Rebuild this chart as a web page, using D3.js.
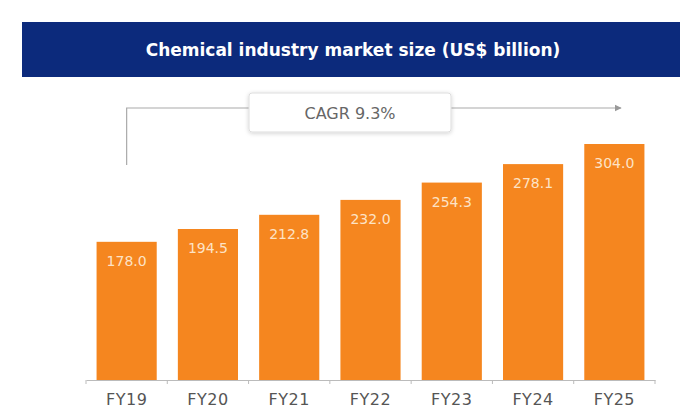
<!DOCTYPE html>
<html><head><meta charset="utf-8">
<script src="https://cdn.jsdelivr.net/npm/d3@7"></script>
<style>body{margin:0;background:#fff}svg{display:block}</style>
</head><body>
<svg id="c" width="680" height="418"></svg>
<script>
const categories = ["FY19","FY20","FY21","FY22","FY23","FY24","FY25"];
const values = [178.0, 194.5, 212.8, 232.0, 254.3, 278.1, 304.0];
const valueLabels = ["178.0","194.5","212.8","232.0","254.3","278.1","304.0"];
const title = "Chemical industry market size (US$ billion)";
const cagrText = "CAGR 9.3%";

const FONT = "DejaVu Sans, Verdana, sans-serif";
const svg = d3.select("#c");
const baseY = 380;
const x = d3.scaleBand().domain(categories).range([86, 655]).paddingInner(0.26).paddingOuter(0.13);
const y = d3.scaleLinear().domain([0, 304]).range([baseY, 144]);

// title band
svg.append("rect").attr("x",22).attr("y",22).attr("width",658).attr("height",55).attr("fill","#0c2a7c");
svg.append("text").attr("x",353).attr("y",56).attr("text-anchor","middle")
  .attr("fill","#fff").attr("font-family",FONT)
  .attr("font-weight","bold").attr("font-size",17).text(title);

// CAGR line + arrow
const defs = svg.append("defs");
defs.append("marker").attr("id","arr").attr("viewBox","0 0 10 10").attr("refX",9).attr("refY",5)
  .attr("markerWidth",6).attr("markerHeight",6).attr("orient","auto")
  .append("path").attr("d","M0,0L10,5L0,10z").attr("fill","#999");
const f = defs.append("filter").attr("id","sh").attr("x","-20%").attr("y","-30%").attr("width","140%").attr("height","170%");
f.append("feDropShadow").attr("dx",0).attr("dy",1).attr("stdDeviation",2).attr("flood-color","#000").attr("flood-opacity",0.18);

const lx = x("FY19") + x.bandwidth()/2;
svg.append("path").attr("d",`M${lx},165 L${lx},108 L621,108`).attr("fill","none")
  .attr("stroke","#aaa").attr("stroke-width",1.2).attr("marker-end","url(#arr)");
svg.append("rect").attr("x",249).attr("y",93).attr("width",202).attr("height",39).attr("rx",3)
  .attr("fill","#fff").attr("stroke","#ddd").attr("filter","url(#sh)");
svg.append("text").attr("x",350).attr("y",119).attr("text-anchor","middle").attr("fill","#666")
  .attr("font-family",FONT).attr("font-size",16).text(cagrText);

// bars
svg.selectAll(".bar").data(categories).join("rect").attr("class","bar")
  .attr("x",d=>x(d)).attr("width",x.bandwidth())
  .attr("y",(d,i)=>y(values[i])).attr("height",(d,i)=>baseY-y(values[i]))
  .attr("fill","#f5861f");
svg.selectAll(".vl").data(categories).join("text").attr("class","vl")
  .attr("x",d=>x(d)+x.bandwidth()/2).attr("y",(d,i)=>y(values[i])+24)
  .attr("text-anchor","middle").attr("fill","#fde3c6")
  .attr("font-family",FONT).attr("font-size",14)
  .text((d,i)=>valueLabels[i]);

// axis
const ax = svg.append("g").attr("transform",`translate(0,${baseY})`)
  .call(d3.axisBottom(x).tickSize(0).tickPadding(12));
ax.select(".domain").attr("stroke","#bbb");
ax.selectAll("text").attr("fill","#555").attr("font-family",FONT).attr("font-size",16)
  .attr("dy","0.8em").attr("letter-spacing","0.5px");
const step = x.step();
const bounds = categories.map(d=>x(d) - x.paddingInner()*step/2).concat([x("FY25")+x.bandwidth()+x.paddingInner()*step/2]);
svg.selectAll(".tk").data(bounds).join("line").attr("class","tk")
  .attr("x1",d=>d).attr("x2",d=>d).attr("y1",baseY).attr("y2",baseY+4).attr("stroke","#bbb");
</script>
</body></html>
